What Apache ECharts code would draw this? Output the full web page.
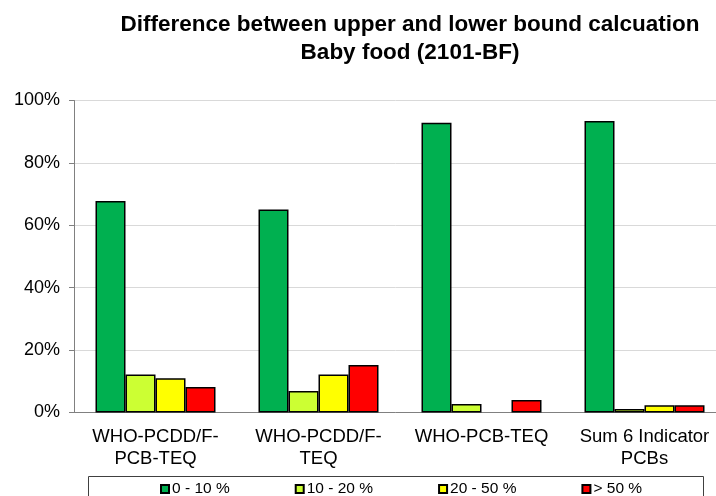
<!DOCTYPE html>
<html>
<head>
<meta charset="utf-8">
<script src="https://cdn.jsdelivr.net/npm/echarts@6/dist/echarts.min.js"></script>
<style>
  html, body { margin: 0; padding: 0; background: #fff; }
  #chart { width: 716px; height: 496px; }
</style>
</head>
<body>
<div id="chart"></div>
<script>
// Share of samples by relative difference between upper- and lower-bound results
const categories = ['WHO-PCDD/F-\nPCB-TEQ', 'WHO-PCDD/F-\nTEQ', 'WHO-PCB-TEQ', 'Sum 6 Indicator\nPCBs'];
const band0to10 = [67.8, 65.1, 92.9, 93.4];
const band10to20 = [12.2, 6.9, 2.7, 1.1];
const band20to50 = [11.0, 12.2, 0, 2.3];
const bandOver50 = [8.2, 15.2, 4.0, 2.3];
const seriesNames = ['0 - 10 %', '10 - 20 %', '20 - 50 %', '> 50 %'];
const seriesColors = ['#00B050', '#CCFF33', '#FFFF00', '#FF0000'];
const seriesValues = [band0to10, band10to20, band20to50, bandOver50];

const font = '"Liberation Sans", Arial, sans-serif';
const chart = echarts.init(document.getElementById('chart'), null, { renderer: 'canvas' });

chart.setOption({
  animation: false,
  backgroundColor: '#fff',
  title: {
    text: 'Difference between upper and lower bound calcuation\nBaby food (2101-BF)',
    left: 410,
    top: 11,
    textAlign: 'center',
    padding: 0,
    textStyle: {
      fontFamily: font,
      fontWeight: 'bold',
      fontSize: 22.5,
      lineHeight: 28,
      color: '#000'
    }
  },
  // plot area runs past the right edge of the canvas
  grid: { left: 74, width: 652, top: 100.5, bottom: 83.5, outerBoundsMode: 'none' },
  legend: {
    left: 160,
    top: 481,
    padding: 0,
    itemGap: 65,
    itemWidth: 8,
    itemHeight: 8,
    icon: 'rect',
    textStyle: { fontFamily: font, fontSize: 15.5, color: '#000', padding: [0, 0, 0, -2] },
    data: seriesNames
  },
  graphic: [{
    type: 'rect',
    shape: { x: 88.5, y: 476.5, width: 615, height: 40 },
    style: { fill: 'none', stroke: '#404040', lineWidth: 1 },
    z: 10
  }],
  xAxis: {
    type: 'category',
    data: categories,
    axisLine: { lineStyle: { color: '#808080', width: 1 } },
    axisTick: { length: 5, lineStyle: { color: '#808080' } },
    axisLabel: { fontFamily: font, fontSize: 18.5, color: '#000', lineHeight: 22, margin: 13, interval: 0 }
  },
  yAxis: {
    type: 'value',
    min: 0,
    max: 100,
    interval: 20,
    axisLine: { show: true, lineStyle: { color: '#808080', width: 1 } },
    axisTick: { show: true, length: 5, lineStyle: { color: '#808080' } },
    axisLabel: { formatter: '{value}%', fontFamily: font, fontSize: 18, color: '#000', margin: 14 },
    splitLine: { lineStyle: { color: '#d9d9d9', width: 1 } }
  },
  series: seriesNames.map((name, i) => ({
    name: name,
    type: 'bar',
    // empty bands get no outline so nothing is drawn at zero
    data: seriesValues[i].map(v => (v === 0 ? { value: v, itemStyle: { borderWidth: 0 } } : v)),
    barWidth: 30,
    barGap: '0%',
    itemStyle: { color: seriesColors[i], borderColor: '#000', borderWidth: 1.5 }
  }))
});
</script>
</body>
</html>
